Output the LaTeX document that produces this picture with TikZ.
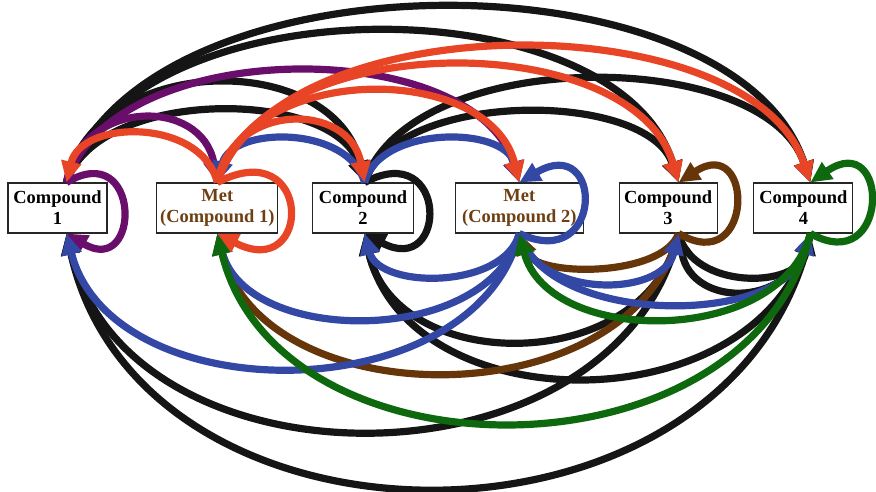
\documentclass[tikz,border=0pt]{standalone}
\usepackage{fontspec}
\setmainfont{Liberation Serif}
\usetikzlibrary{arrows.meta}
\usetikzlibrary{positioning}

\definecolor{linkblack}{HTML}{151515}
\definecolor{linkpurple}{HTML}{6A0E6C}
\definecolor{linkred}{HTML}{E84526}
\definecolor{linkblue}{HTML}{3347A5}
\definecolor{linkbrown}{HTML}{66350A}
\definecolor{linkgreen}{HTML}{0E690E}
\definecolor{metbrown}{HTML}{6E3F12}

\tikzset{
  box/.style={draw=black!85, line width=0.6pt, fill=white, align=center,
    minimum width=1.98cm, minimum height=1cm, inner sep=1pt,
    font=\fontsize{10.5}{12}\selectfont\bfseries},
  met/.style={box, text=metbrown},
  link/.style={line width=4.1pt, -{Triangle[length=12pt,width=11pt]}},
}

\begin{document}
\begin{tikzpicture}[x=0.02cm, y=-0.02cm]
  \useasboundingbox (0,0) rectangle (876,492);

  % compounds and their metabolites
  \node[box] (c1) at (57.5,208) {Compound\\1};
  \node[met, minimum width=2.42cm, right=0.975cm of c1] (m1) {Met\\(Compound 1)};
  \node[box, minimum width=2.02cm, right=0.675cm of m1] (c2) {Compound\\2};
  \node[met, minimum width=2.56cm, right=0.815cm of c2] (m2) {Met\\(Compound 2)};
  \node[box, minimum width=1.96cm, right=0.695cm of m2] (c3) {Compound\\3};
  \node[box, right=0.715cm of c3] (c4) {Compound\\4};

  % ports where the arcs meet the boxes
  \coordinate (c1n) at ([xshift=0.18cm]c1.north);
  \coordinate (c1s) at ([xshift=0.18cm]c1.south);
  \coordinate (m1n) at (m1.north);
  \coordinate (m1s) at (m1.south);
  \coordinate (c2n) at ([xshift=0.03cm]c2.north);
  \coordinate (c2s) at ([xshift=0.03cm]c2.south);
  \coordinate (m2n) at (m2.north);
  \coordinate (m2s) at (m2.south);
  \coordinate (c3n) at ([xshift=0.21cm]c3.north);
  \coordinate (c3s) at ([xshift=0.21cm]c3.south);
  \coordinate (c4n) at ([xshift=0.14cm]c4.north);
  \coordinate (c4s) at ([xshift=0.14cm]c4.south);

  % black
  \draw[link, linkblack] (c1n) .. controls +(75,-233) and +(-75,-233) .. (c4n);
  \draw[link, linkblack] (c1n) .. controls +(61,-201) and +(-61,-201) .. (c3n);
  \draw[link, linkblack] (c1n) .. controls +(30,-132) and +(-30,-132) .. (c2n);
  \draw[link, linkblack] (c1n) .. controls +(30,-95) and +(-30,-95) .. (c2n);
  \draw[link, linkblack] (c2n) .. controls +(45,-137) and +(-45,-137) .. (c4n);
  \draw[link, linkblack] (c2n) .. controls +(31,-93) and +(-31,-93) .. (c3n);
  \draw[link, linkblack] (c3s) .. controls +(-61,263) and +(61,263) .. (c1s);
  \draw[link, linkblack] (c4s) .. controls +(-75,339) and +(75,339) .. (c1s);
  \draw[link, linkblack] (c3s) .. controls +(-31,143) and +(31,143) .. (c2s);
  \draw[link, linkblack] (c4s) .. controls +(-45,192) and +(45,192) .. (c2s);
  \draw[link, linkblack] (c3s) .. controls +(13,56) and +(-13,56) .. (c4s);
  \draw[link, linkblack] (c4s) .. controls +(-13,76) and +(13,76) .. (c3s);
  \draw[link, linkblack] (c2n) .. controls +(84,-45) and +(84,45) .. (c2s);

  % purple
  \draw[link, linkpurple] (c1n) .. controls +(45,-148) and +(-45,-148) .. (m2n);
  \draw[link, linkpurple] (c1n) .. controls +(15,-85) and +(-15,-85) .. (m1n);
  \draw[link, linkpurple] (c1n) .. controls +(75,-45) and +(75,45) .. (c1s);

  % brown
  \draw[link, linkbrown] (c3s) .. controls +(-46,185) and +(46,185) .. (m1s);
  \draw[link, linkbrown] (c3s) .. controls +(-16,44) and +(16,44) .. (m2s);
  \draw[link, linkbrown] (c3s) .. controls +(76,45) and +(76,-50) .. (c3n);

  % blue
  \draw[link, linkblue] (c2n) .. controls +(-15,-57) and +(15,-57) .. (m1n);
  \draw[link, linkblue] (c2n) .. controls +(15,-57) and +(-15,-57) .. (m2n);
  \draw[link, linkblue] (m2s) .. controls +(-45,179) and +(45,179) .. (c1s);
  \draw[link, linkblue] (m2s) .. controls +(-30,113) and +(30,113) .. (m1s);
  \draw[link, linkblue] (m2s) .. controls +(-15,56) and +(15,56) .. (c2s);
  \draw[link, linkblue] (m2s) .. controls +(16,65) and +(-16,65) .. (c3s);
  \draw[link, linkblue] (m2s) .. controls +(29,93) and +(-29,93) .. (c4s);
  \draw[link, linkblue] (m2s) .. controls +(85,40) and +(85,-50) .. (m2n);

  % green
  \draw[link, linkgreen] (c4s) .. controls +(-60,252) and +(60,252) .. (m1s);
  \draw[link, linkgreen] (c4s) .. controls +(-29,113) and +(29,113) .. (m2s);
  \draw[link, linkgreen] (c4s) .. controls +(80,45) and +(80,-55) .. (c4n);

  % red
  \draw[link, linkred] (m1n) .. controls +(-15,-64) and +(15,-64) .. (c1n);
  \draw[link, linkred] (m1n) .. controls +(15,-81) and +(-15,-81) .. (c2n);
  \draw[link, linkred] (m1n) .. controls +(30,-121) and +(-30,-121) .. (m2n);
  \draw[link, linkred] (m1n) .. controls +(46,-156) and +(-46,-156) .. (c3n);
  \draw[link, linkred] (m1n) .. controls +(60,-180) and +(-60,-180) .. (c4n);
  \draw[link, linkred] (m1n) .. controls +(96,-50) and +(96,50) .. (m1s);
\end{tikzpicture}
\end{document}
